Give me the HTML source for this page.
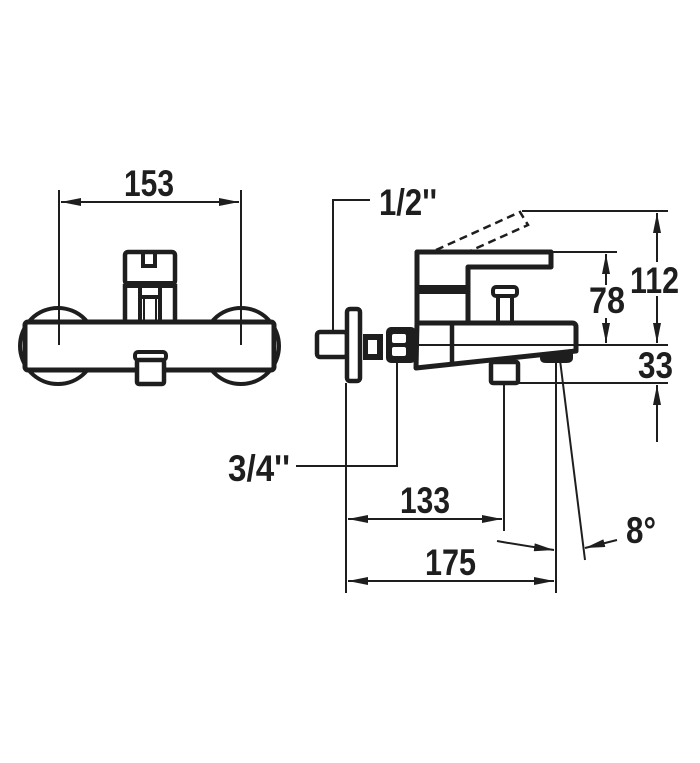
<!DOCTYPE html>
<html><head><style>
html,body{margin:0;padding:0;background:#fff;}
svg{display:block;}
text{font-family:"Liberation Sans",sans-serif;font-weight:bold;fill:#1e1e1e;}
</style></head><body>
<svg width="700" height="763" viewBox="0 0 700 763" xmlns="http://www.w3.org/2000/svg">
<defs>
<marker id="a" viewBox="0 0 20 8" refX="20" refY="4" markerWidth="20" markerHeight="8" markerUnits="userSpaceOnUse" orient="auto-start-reverse">
<path d="M0,0 L20,4 L0,8 z" fill="#1e1e1e"/></marker>
</defs>
<g stroke="#1e1e1e" fill="none">
<circle cx="58" cy="346" r="38" stroke-width="4"/>
<circle cx="241" cy="346" r="38" stroke-width="4"/>
<rect x="25" y="322" width="249" height="48" rx="3" fill="#fff" stroke-width="5"/>
<line x1="59" y1="190" x2="59" y2="345" stroke-width="2"/>
<line x1="241" y1="190" x2="241" y2="345" stroke-width="2"/>
<line x1="61" y1="202" x2="239" y2="202" stroke-width="2" marker-start="url(#a)" marker-end="url(#a)"/>
<rect x="125" y="252" width="50" height="32" rx="3" stroke-width="4.5"/>
<path d="M143,253 V266 H155 V253" stroke-width="4"/>
<rect x="125" y="281" width="50" height="7" fill="#1e1e1e" stroke="none"/>
<path d="M125,284 V322 M175,284 V322" stroke-width="4.5"/>
<path d="M140,288 V322 M160,288 V322 M140,297 H160" stroke-width="4"/>
<path d="M144,298 V322 M156,298 V322" stroke-width="2"/>
<rect x="135" y="352" width="31" height="8" rx="3" stroke-width="4"/>
<rect x="137" y="360" width="27" height="24" rx="2" fill="#fff" stroke-width="4.5"/>

<path d="M370,200 H333 V331" stroke-width="2"/>
<rect x="317" y="332" width="30" height="25" rx="3" stroke-width="4.5"/>
<rect x="347" y="309" width="13" height="72" rx="3" fill="#fff" stroke-width="4.5"/>
<rect x="363" y="334" width="20" height="26" fill="#1e1e1e" stroke="none"/>
<rect x="368" y="340" width="9" height="14" fill="#fff" stroke="none"/>
<rect x="386" y="327" width="30" height="36" rx="5" fill="#1e1e1e" stroke="none"/>
<rect x="392" y="334" width="14" height="9" rx="2" fill="#fff" stroke="none"/>
<rect x="392" y="347" width="14" height="9" rx="2" fill="#fff" stroke="none"/>
<path d="M417,323 H572 Q576,323 576,327 V351 L416,368 Z" stroke-width="5" stroke-linejoin="round"/>
<line x1="417" y1="345" x2="668" y2="345" stroke-width="2"/>
<line x1="452" y1="323" x2="452" y2="364" stroke-width="4.5"/>
<path d="M417,323 V252 H551 V267 H468 V323" stroke-width="5" stroke-linejoin="round"/>
<rect x="417" y="285" width="51" height="9" fill="#1e1e1e" stroke="none"/>
<line x1="551" y1="252" x2="617" y2="252" stroke-width="2"/>
<rect x="493" y="287" width="24" height="9" rx="3" stroke-width="4"/>
<path d="M498,296 V323 M512,296 V323" stroke-width="4"/>
<path d="M436,250 L520,212 L528,225 L470,251" stroke-width="2.5" stroke-dasharray="8,5"/>
<line x1="522" y1="211" x2="668" y2="211" stroke-width="2"/>
<rect x="491" y="362" width="27" height="21" rx="2" stroke-width="4.5"/>
<path d="M541,354 L572,350 V358 Q572,362 566,362 H546 Q541,362 541,358 Z" fill="#1e1e1e" stroke-width="2"/>
<line x1="518" y1="383" x2="668" y2="383" stroke-width="2"/>

<line x1="657" y1="213" x2="657" y2="262" stroke-width="2" marker-start="url(#a)"/>
<line x1="657" y1="296" x2="657" y2="343" stroke-width="2" marker-end="url(#a)"/>
<line x1="606" y1="254" x2="606" y2="285" stroke-width="2" marker-start="url(#a)"/>
<line x1="606" y1="318" x2="606" y2="343" stroke-width="2" marker-end="url(#a)"/>
<line x1="657" y1="442" x2="657" y2="385" stroke-width="2" marker-end="url(#a)"/>

<line x1="346" y1="383" x2="346" y2="593" stroke-width="2"/>
<path d="M397,363 V466 H296" stroke-width="2"/>
<line x1="504" y1="383" x2="504" y2="531" stroke-width="2"/>
<line x1="556" y1="360" x2="556" y2="593" stroke-width="2"/>
<line x1="560" y1="360" x2="585" y2="560" stroke-width="2"/>
<line x1="348" y1="519" x2="502" y2="519" stroke-width="2" marker-start="url(#a)" marker-end="url(#a)"/>
<line x1="348" y1="581" x2="554" y2="581" stroke-width="2" marker-start="url(#a)" marker-end="url(#a)"/>
<path d="M497,541 Q525,546 554,550" stroke-width="2" marker-end="url(#a)"/>
<line x1="617" y1="540" x2="585" y2="548" stroke-width="2" marker-end="url(#a)"/>
</g>
<g font-size="37">
<text x="124" y="196" textLength="50" lengthAdjust="spacingAndGlyphs">153</text>
<text x="379" y="215" textLength="58" lengthAdjust="spacingAndGlyphs">1/2''</text>
<text x="630" y="293" textLength="49" lengthAdjust="spacingAndGlyphs">112</text>
<text x="589" y="313" textLength="36" lengthAdjust="spacingAndGlyphs">78</text>
<text x="638" y="378" textLength="35" lengthAdjust="spacingAndGlyphs">33</text>
<text x="228" y="481" textLength="62" lengthAdjust="spacingAndGlyphs">3/4''</text>
<text x="400" y="513" textLength="50" lengthAdjust="spacingAndGlyphs">133</text>
<text x="425" y="575" textLength="51" lengthAdjust="spacingAndGlyphs">175</text>
<text x="626" y="543" textLength="30" lengthAdjust="spacingAndGlyphs">8°</text>
</g>
</svg>
</body></html>
